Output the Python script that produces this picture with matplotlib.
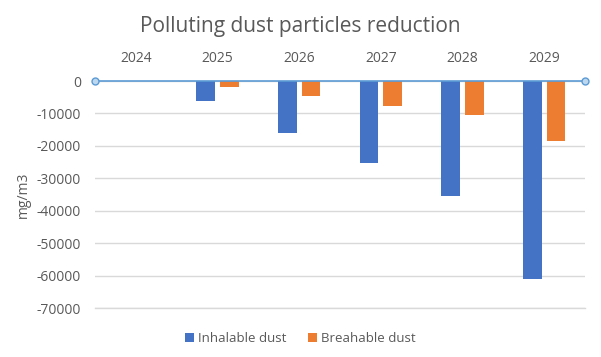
import matplotlib
matplotlib.use("Agg")
import matplotlib.pyplot as plt
import numpy as np

years = ["2024", "2025", "2026", "2027", "2028", "2029"]
inhalable = [0, -6200, -16000, -25300, -35500, -61000]
breathable = [0, -1800, -4600, -7700, -10500, -18400]
series_names = ["Inhalable dust", "Breahable dust"]
yticks = [0, -10000, -20000, -30000, -40000, -50000, -60000, -70000]

plt.rcParams['font.family'] = ['Open Sans', 'DejaVu Sans']

fig = plt.figure(figsize=(6.01, 3.57), dpi=100)
ax = fig.add_axes([95/601, 1-308/357, 490/601, 227/357])

x = np.arange(len(years))
w = 0.23
off = 0.145
ax.bar(x - off, inhalable, w, color="#4472C4", label=series_names[0], zorder=3)
ax.bar(x + off, breathable, w, color="#ED7D31", label=series_names[1], zorder=3)

ax.set_xlim(-0.5, len(years) - 0.5)
ax.set_ylim(-70000, 0)
ax.set_yticks(yticks)
ax.set_yticklabels([str(v) for v in yticks], color="#595959", fontsize=10)
ax.set_xticks(x)
ax.set_xticklabels(years, color="#595959", fontsize=10)
ax.xaxis.tick_top()
ax.tick_params(axis='y', length=0, pad=10)
ax.tick_params(axis='x', length=0, pad=11)
ax.grid(axis='y', color="#D9D9D9", linewidth=1, zorder=0)
for s in ax.spines.values():
    s.set_visible(False)
ax.axhline(-70000, color="#D9D9D9", linewidth=1, zorder=0, clip_on=False)

ax.plot([-0.5, len(years) - 0.5], [0, 0], color="#5B9BD5", linewidth=1.2,
        marker='o', markersize=5, markerfacecolor="#BDD7EE",
        markeredgecolor="#5B9BD5", clip_on=False, zorder=4)

ax.set_ylabel("mg/m3", color="#595959", fontsize=10, labelpad=4)

fig.text(0.5, 1 - 32/357, "Polluting dust particles reduction", ha='center', va='baseline',
         fontsize=15, color="#595959")

leg = fig.legend(loc='center', bbox_to_anchor=(0.5, 0.052), ncol=2, frameon=False,
                 fontsize=9.5, handlelength=0.7, handleheight=0.7, handletextpad=0.3,
                 columnspacing=1.6, labelcolor="#595959")

fig.savefig("out.png", dpi=100)
